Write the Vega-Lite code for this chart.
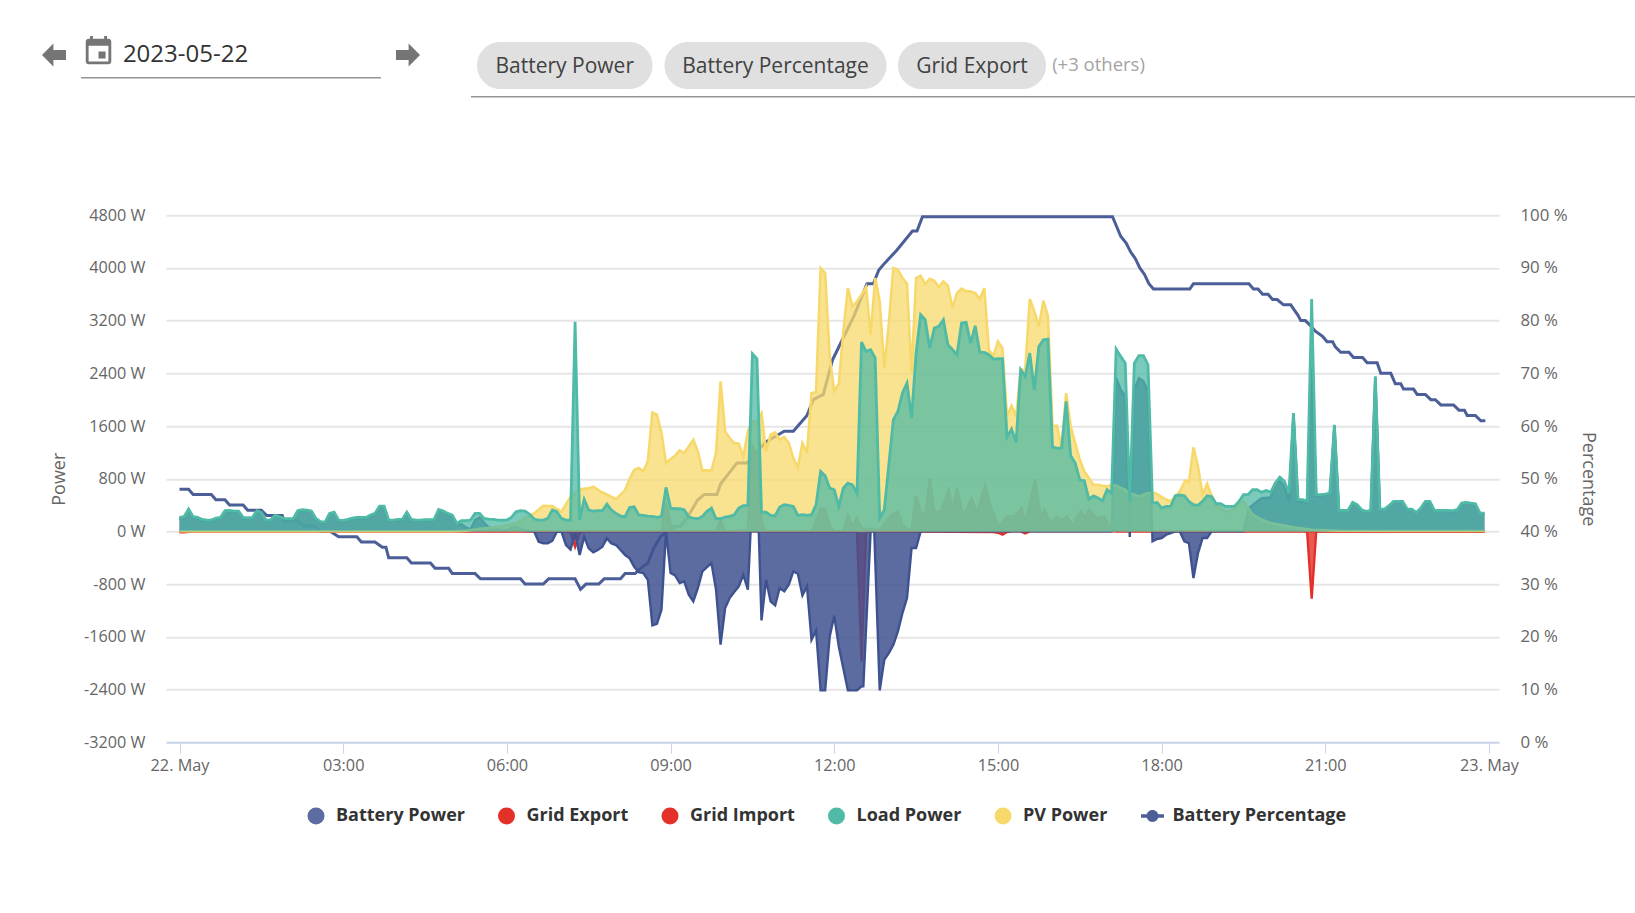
{
"$schema":"https://vega.github.io/schema/vega-lite/v6.json",
"padding":{"left":42,"top":35,"right":0,"bottom":40},
"config":{"view":{"stroke":null},"font":"Open Sans"},
"datasets":{
"percent":[{"minute":0,"pct":48},{"minute":10,"pct":48},{"minute":15,"pct":47},{"minute":35,"pct":47},{"minute":40,"pct":46},{"minute":50,"pct":46},{"minute":55,"pct":45},{"minute":70,"pct":45},{"minute":75,"pct":44},{"minute":90,"pct":44},{"minute":96,"pct":43},{"minute":113,"pct":43},{"minute":115,"pct":42},{"minute":130,"pct":42},{"minute":137,"pct":41},{"minute":148,"pct":41},{"minute":155,"pct":40},{"minute":166,"pct":40},{"minute":175,"pct":39},{"minute":195,"pct":39},{"minute":200,"pct":38},{"minute":215,"pct":38},{"minute":223,"pct":37},{"minute":227,"pct":37},{"minute":230,"pct":35},{"minute":250,"pct":35},{"minute":255,"pct":34},{"minute":276,"pct":34},{"minute":281,"pct":33},{"minute":296,"pct":33},{"minute":300,"pct":32},{"minute":325,"pct":32},{"minute":331,"pct":31},{"minute":375,"pct":31},{"minute":380,"pct":30},{"minute":400,"pct":30},{"minute":406,"pct":31},{"minute":435,"pct":31},{"minute":441,"pct":29},{"minute":447,"pct":30},{"minute":461,"pct":30},{"minute":467,"pct":31},{"minute":485,"pct":31},{"minute":490,"pct":32},{"minute":501,"pct":32},{"minute":507,"pct":33},{"minute":515,"pct":34},{"minute":522,"pct":37},{"minute":529,"pct":39},{"minute":536,"pct":40},{"minute":545,"pct":41},{"minute":551,"pct":41},{"minute":558,"pct":42.5},{"minute":570,"pct":46},{"minute":577,"pct":47},{"minute":591,"pct":47},{"minute":595,"pct":49},{"minute":613,"pct":53},{"minute":624,"pct":53},{"minute":645,"pct":57},{"minute":665,"pct":59},{"minute":675,"pct":59},{"minute":690,"pct":62},{"minute":697,"pct":65},{"minute":708,"pct":66},{"minute":718,"pct":72.5},{"minute":727,"pct":75.7},{"minute":742,"pct":81},{"minute":756,"pct":87},{"minute":763,"pct":87},{"minute":769,"pct":89.6},{"minute":776,"pct":91},{"minute":789,"pct":93.4},{"minute":806,"pct":97},{"minute":811,"pct":97},{"minute":817,"pct":99.7},{"minute":1026,"pct":99.7},{"minute":1035,"pct":96},{"minute":1041,"pct":94.7},{"minute":1046,"pct":93},{"minute":1051,"pct":91.8},{"minute":1056,"pct":90},{"minute":1061,"pct":88.8},{"minute":1066,"pct":87},{"minute":1071,"pct":86},{"minute":1111,"pct":86},{"minute":1115,"pct":87},{"minute":1176,"pct":87},{"minute":1181,"pct":86},{"minute":1186,"pct":86},{"minute":1191,"pct":85},{"minute":1197,"pct":85},{"minute":1202,"pct":84},{"minute":1207,"pct":84},{"minute":1214,"pct":83},{"minute":1222,"pct":83},{"minute":1226,"pct":82},{"minute":1230,"pct":81},{"minute":1233,"pct":80},{"minute":1238,"pct":80},{"minute":1244,"pct":79},{"minute":1249,"pct":78},{"minute":1257,"pct":77},{"minute":1262,"pct":76},{"minute":1268,"pct":76},{"minute":1271,"pct":75},{"minute":1277,"pct":74},{"minute":1286,"pct":74},{"minute":1291,"pct":73},{"minute":1301,"pct":73},{"minute":1306,"pct":72},{"minute":1317,"pct":72},{"minute":1321,"pct":70},{"minute":1332,"pct":70},{"minute":1337,"pct":68},{"minute":1343,"pct":68},{"minute":1346,"pct":67},{"minute":1357,"pct":67},{"minute":1361,"pct":66},{"minute":1370,"pct":66},{"minute":1376,"pct":65},{"minute":1381,"pct":65},{"minute":1387,"pct":64},{"minute":1401,"pct":64},{"minute":1407,"pct":63},{"minute":1413,"pct":63},{"minute":1416,"pct":62},{"minute":1425,"pct":62},{"minute":1431,"pct":61},{"minute":1436,"pct":61}],
"export":[{"minute":0,"watts":-12},{"minute":5,"watts":-15},{"minute":10,"watts":-5},{"minute":15,"watts":0},{"minute":425,"watts":0},{"minute":430,"watts":-20},{"minute":435,"watts":-233},{"minute":440,"watts":-20},{"minute":445,"watts":0},{"minute":745,"watts":0},{"minute":750,"watts":-1973},{"minute":755,"watts":0},{"minute":895,"watts":-10},{"minute":900,"watts":-20},{"minute":905,"watts":-50},{"minute":910,"watts":-10},{"minute":915,"watts":0},{"minute":925,"watts":0},{"minute":930,"watts":-30},{"minute":935,"watts":0},{"minute":1235,"watts":0},{"minute":1240,"watts":-5},{"minute":1245,"watts":-1022},{"minute":1250,"watts":-5},{"minute":1255,"watts":0},{"minute":1435,"watts":-5}],
"import":[{"minute":0,"watts":0},{"minute":530,"watts":0},{"minute":535,"watts":430},{"minute":540,"watts":100},{"minute":545,"watts":0},{"minute":590,"watts":0},{"minute":595,"watts":170},{"minute":600,"watts":0},{"minute":625,"watts":20},{"minute":630,"watts":1290},{"minute":635,"watts":1189},{"minute":640,"watts":160},{"minute":645,"watts":0},{"minute":695,"watts":0},{"minute":700,"watts":150},{"minute":705,"watts":345},{"minute":710,"watts":340},{"minute":715,"watts":80},{"minute":720,"watts":0},{"minute":730,"watts":0},{"minute":735,"watts":250},{"minute":740,"watts":80},{"minute":745,"watts":200},{"minute":750,"watts":50},{"minute":770,"watts":20},{"minute":775,"watts":100},{"minute":780,"watts":210},{"minute":785,"watts":270},{"minute":790,"watts":300},{"minute":795,"watts":100},{"minute":800,"watts":30},{"minute":805,"watts":20},{"minute":810,"watts":540},{"minute":815,"watts":300},{"minute":820,"watts":230},{"minute":825,"watts":810},{"minute":830,"watts":300},{"minute":837,"watts":304},{"minute":846,"watts":632},{"minute":850,"watts":300},{"minute":855,"watts":658},{"minute":862,"watts":228},{"minute":871,"watts":506},{"minute":877,"watts":270},{"minute":886,"watts":708},{"minute":892,"watts":380},{"minute":901,"watts":70},{"minute":910,"watts":228},{"minute":918,"watts":230},{"minute":926,"watts":354},{"minute":930,"watts":120},{"minute":941,"watts":794},{"minute":947,"watts":200},{"minute":951,"watts":329},{"minute":958,"watts":120},{"minute":965,"watts":228},{"minute":970,"watts":170},{"minute":976,"watts":228},{"minute":982,"watts":90},{"minute":991,"watts":304},{"minute":996,"watts":200},{"minute":1000,"watts":329},{"minute":1009,"watts":200},{"minute":1017,"watts":228},{"minute":1024,"watts":50},{"minute":1030,"watts":0},{"minute":1435,"watts":0}],
"battery":[{"minute":0,"watts":200},{"minute":5,"watts":210},{"minute":10,"watts":325},{"minute":15,"watts":210},{"minute":20,"watts":200},{"minute":25,"watts":170},{"minute":30,"watts":160},{"minute":35,"watts":160},{"minute":40,"watts":190},{"minute":45,"watts":200},{"minute":50,"watts":300},{"minute":55,"watts":305},{"minute":60,"watts":295},{"minute":65,"watts":295},{"minute":70,"watts":200},{"minute":75,"watts":195},{"minute":80,"watts":195},{"minute":85,"watts":300},{"minute":90,"watts":275},{"minute":95,"watts":160},{"minute":100,"watts":160},{"minute":105,"watts":235},{"minute":110,"watts":210},{"minute":115,"watts":185},{"minute":120,"watts":180},{"minute":125,"watts":180},{"minute":130,"watts":300},{"minute":135,"watts":320},{"minute":140,"watts":315},{"minute":145,"watts":300},{"minute":150,"watts":190},{"minute":155,"watts":135},{"minute":160,"watts":130},{"minute":165,"watts":260},{"minute":170,"watts":280},{"minute":175,"watts":160},{"minute":180,"watts":155},{"minute":185,"watts":170},{"minute":190,"watts":190},{"minute":195,"watts":200},{"minute":205,"watts":200},{"minute":210,"watts":235},{"minute":215,"watts":260},{"minute":220,"watts":370},{"minute":225,"watts":370},{"minute":230,"watts":160},{"minute":235,"watts":160},{"minute":240,"watts":170},{"minute":245,"watts":170},{"minute":250,"watts":280},{"minute":255,"watts":170},{"minute":260,"watts":160},{"minute":265,"watts":160},{"minute":270,"watts":165},{"minute":275,"watts":165},{"minute":280,"watts":170},{"minute":285,"watts":320},{"minute":290,"watts":295},{"minute":295,"watts":260},{"minute":300,"watts":235},{"minute":305,"watts":100},{"minute":310,"watts":110},{"minute":315,"watts":60},{"minute":320,"watts":30},{"minute":325,"watts":170},{"minute":330,"watts":210},{"minute":335,"watts":130},{"minute":340,"watts":60},{"minute":345,"watts":50},{"minute":350,"watts":30},{"minute":355,"watts":20},{"minute":360,"watts":20},{"minute":365,"watts":60},{"minute":370,"watts":70},{"minute":375,"watts":40},{"minute":380,"watts":10},{"minute":390,"watts":0},{"minute":395,"watts":-157},{"minute":400,"watts":-182},{"minute":405,"watts":-182},{"minute":410,"watts":-142},{"minute":415,"watts":-5},{"minute":420,"watts":-5},{"minute":425,"watts":-207},{"minute":430,"watts":-273},{"minute":435,"watts":-30},{"minute":440,"watts":-359},{"minute":445,"watts":-81},{"minute":450,"watts":-258},{"minute":455,"watts":-319},{"minute":460,"watts":-283},{"minute":465,"watts":-233},{"minute":470,"watts":-106},{"minute":475,"watts":-182},{"minute":480,"watts":-207},{"minute":485,"watts":-283},{"minute":490,"watts":-359},{"minute":495,"watts":-410},{"minute":500,"watts":-536},{"minute":505,"watts":-620},{"minute":510,"watts":-632},{"minute":515,"watts":-734},{"minute":520,"watts":-1427},{"minute":525,"watts":-1402},{"minute":530,"watts":-1189},{"minute":535,"watts":0},{"minute":540,"watts":-632},{"minute":545,"watts":-668},{"minute":550,"watts":-784},{"minute":555,"watts":-759},{"minute":560,"watts":-961},{"minute":565,"watts":-1063},{"minute":570,"watts":-860},{"minute":575,"watts":-607},{"minute":580,"watts":-541},{"minute":585,"watts":-481},{"minute":590,"watts":-885},{"minute":595,"watts":-1720},{"minute":600,"watts":-1164},{"minute":605,"watts":-1012},{"minute":610,"watts":-921},{"minute":615,"watts":-835},{"minute":620,"watts":-658},{"minute":625,"watts":-885},{"minute":628,"watts":0},{"minute":637,"watts":0},{"minute":640,"watts":-1351},{"minute":645,"watts":-734},{"minute":650,"watts":-1063},{"minute":655,"watts":-1123},{"minute":660,"watts":-860},{"minute":665,"watts":-911},{"minute":670,"watts":-810},{"minute":675,"watts":-607},{"minute":680,"watts":-643},{"minute":685,"watts":-971},{"minute":690,"watts":-835},{"minute":695,"watts":-1645},{"minute":700,"watts":-1503},{"minute":705,"watts":-2414},{"minute":710,"watts":-2414},{"minute":715,"watts":-1594},{"minute":720,"watts":-1280},{"minute":725,"watts":-1746},{"minute":735,"watts":-2414},{"minute":740,"watts":-2414},{"minute":745,"watts":-2414},{"minute":750,"watts":-2353},{"minute":752,"watts":-2353},{"minute":760,"watts":0},{"minute":764,"watts":0},{"minute":770,"watts":-2414},{"minute":775,"watts":-1948},{"minute":780,"watts":-1847},{"minute":785,"watts":-1720},{"minute":790,"watts":-1518},{"minute":795,"watts":-1240},{"minute":800,"watts":-1012},{"minute":805,"watts":-253},{"minute":810,"watts":-253},{"minute":815,"watts":0},{"minute":1025,"watts":0},{"minute":1030,"watts":2328},{"minute":1035,"watts":2150},{"minute":1040,"watts":2049},{"minute":1045,"watts":-86},{"minute":1050,"watts":2150},{"minute":1055,"watts":2328},{"minute":1060,"watts":2277},{"minute":1065,"watts":2125},{"minute":1070,"watts":-152},{"minute":1075,"watts":-116},{"minute":1080,"watts":-101},{"minute":1085,"watts":-50},{"minute":1090,"watts":-25},{"minute":1095,"watts":0},{"minute":1100,"watts":0},{"minute":1105,"watts":-152},{"minute":1110,"watts":-177},{"minute":1115,"watts":-708},{"minute":1120,"watts":-329},{"minute":1125,"watts":-101},{"minute":1130,"watts":-101},{"minute":1135,"watts":0},{"minute":1170,"watts":0},{"minute":1176,"watts":354},{"minute":1185,"watts":455},{"minute":1190,"watts":506},{"minute":1200,"watts":516},{"minute":1205,"watts":734},{"minute":1210,"watts":759},{"minute":1215,"watts":683},{"minute":1220,"watts":455},{"minute":1225,"watts":1771},{"minute":1230,"watts":455},{"minute":1235,"watts":455},{"minute":1240,"watts":430},{"minute":1245,"watts":2500},{"minute":1250,"watts":541},{"minute":1255,"watts":541},{"minute":1260,"watts":555},{"minute":1265,"watts":570},{"minute":1270,"watts":1594},{"minute":1275,"watts":310},{"minute":1280,"watts":310},{"minute":1285,"watts":310},{"minute":1290,"watts":430},{"minute":1295,"watts":395},{"minute":1300,"watts":320},{"minute":1305,"watts":295},{"minute":1310,"watts":310},{"minute":1315,"watts":2340},{"minute":1320,"watts":330},{"minute":1325,"watts":330},{"minute":1330,"watts":380},{"minute":1335,"watts":445},{"minute":1345,"watts":445},{"minute":1350,"watts":330},{"minute":1355,"watts":330},{"minute":1360,"watts":280},{"minute":1365,"watts":345},{"minute":1370,"watts":445},{"minute":1375,"watts":445},{"minute":1380,"watts":310},{"minute":1390,"watts":310},{"minute":1400,"watts":305},{"minute":1405,"watts":320},{"minute":1410,"watts":420},{"minute":1415,"watts":430},{"minute":1425,"watts":410},{"minute":1430,"watts":270},{"minute":1435,"watts":270}],
"pv":[{"minute":0,"watts":3},{"minute":300,"watts":3},{"minute":315,"watts":10},{"minute":330,"watts":40},{"minute":345,"watts":60},{"minute":355,"watts":80},{"minute":370,"watts":121},{"minute":380,"watts":200},{"minute":390,"watts":273},{"minute":400,"watts":390},{"minute":410,"watts":385},{"minute":420,"watts":298},{"minute":430,"watts":526},{"minute":440,"watts":638},{"minute":450,"watts":653},{"minute":455,"watts":678},{"minute":465,"watts":590},{"minute":470,"watts":562},{"minute":480,"watts":491},{"minute":490,"watts":627},{"minute":495,"watts":800},{"minute":500,"watts":931},{"minute":505,"watts":961},{"minute":510,"watts":911},{"minute":515,"watts":1063},{"minute":520,"watts":1806},{"minute":525,"watts":1771},{"minute":530,"watts":1493},{"minute":535,"watts":1037},{"minute":540,"watts":1098},{"minute":545,"watts":1149},{"minute":550,"watts":1230},{"minute":555,"watts":1189},{"minute":560,"watts":1290},{"minute":565,"watts":1392},{"minute":570,"watts":1214},{"minute":575,"watts":926},{"minute":585,"watts":926},{"minute":590,"watts":1189},{"minute":595,"watts":2277},{"minute":600,"watts":1518},{"minute":605,"watts":1417},{"minute":610,"watts":1341},{"minute":615,"watts":1331},{"minute":620,"watts":1139},{"minute":625,"watts":1518},{"minute":630,"watts":1670},{"minute":635,"watts":1670},{"minute":640,"watts":1796},{"minute":645,"watts":1214},{"minute":650,"watts":1467},{"minute":655,"watts":1503},{"minute":660,"watts":1392},{"minute":665,"watts":1432},{"minute":670,"watts":1341},{"minute":675,"watts":1113},{"minute":680,"watts":972},{"minute":685,"watts":1341},{"minute":690,"watts":1189},{"minute":695,"watts":2100},{"minute":700,"watts":2110},{"minute":705,"watts":3997},{"minute":710,"watts":3922},{"minute":715,"watts":2657},{"minute":720,"watts":2125},{"minute":725,"watts":2242},{"minute":730,"watts":3036},{"minute":735,"watts":3694},{"minute":740,"watts":3416},{"minute":745,"watts":3491},{"minute":750,"watts":3593},{"minute":755,"watts":3709},{"minute":760,"watts":2985},{"minute":765,"watts":3846},{"minute":770,"watts":3491},{"minute":775,"watts":2479},{"minute":780,"watts":3163},{"minute":785,"watts":3997},{"minute":790,"watts":3972},{"minute":795,"watts":3846},{"minute":800,"watts":3760},{"minute":805,"watts":2404},{"minute":810,"watts":3846},{"minute":815,"watts":3881},{"minute":820,"watts":3755},{"minute":825,"watts":3836},{"minute":830,"watts":3806},{"minute":835,"watts":3709},{"minute":840,"watts":3795},{"minute":845,"watts":3729},{"minute":850,"watts":3390},{"minute":855,"watts":3618},{"minute":860,"watts":3684},{"minute":865,"watts":3643},{"minute":870,"watts":3643},{"minute":875,"watts":3618},{"minute":880,"watts":3527},{"minute":885,"watts":3694},{"minute":890,"watts":2758},{"minute":895,"watts":2657},{"minute":900,"watts":2884},{"minute":905,"watts":2783},{"minute":910,"watts":1746},{"minute":915,"watts":1908},{"minute":920,"watts":1746},{"minute":925,"watts":2454},{"minute":930,"watts":2454},{"minute":935,"watts":3527},{"minute":940,"watts":3340},{"minute":945,"watts":3112},{"minute":950,"watts":3502},{"minute":955,"watts":3264},{"minute":960,"watts":1604},{"minute":965,"watts":1604},{"minute":970,"watts":1265},{"minute":975,"watts":2100},{"minute":980,"watts":1594},{"minute":985,"watts":1341},{"minute":990,"watts":1088},{"minute":995,"watts":911},{"minute":1000,"watts":810},{"minute":1005,"watts":708},{"minute":1010,"watts":708},{"minute":1015,"watts":693},{"minute":1020,"watts":683},{"minute":1025,"watts":708},{"minute":1030,"watts":693},{"minute":1035,"watts":658},{"minute":1040,"watts":632},{"minute":1045,"watts":582},{"minute":1050,"watts":557},{"minute":1055,"watts":531},{"minute":1060,"watts":557},{"minute":1065,"watts":582},{"minute":1073,"watts":582},{"minute":1082,"watts":506},{"minute":1090,"watts":455},{"minute":1100,"watts":607},{"minute":1106,"watts":774},{"minute":1110,"watts":744},{"minute":1115,"watts":1275},{"minute":1120,"watts":987},{"minute":1125,"watts":557},{"minute":1130,"watts":724},{"minute":1135,"watts":541},{"minute":1140,"watts":405},{"minute":1145,"watts":354},{"minute":1150,"watts":304},{"minute":1155,"watts":304},{"minute":1160,"watts":354},{"minute":1165,"watts":405},{"minute":1170,"watts":455},{"minute":1175,"watts":354},{"minute":1180,"watts":253},{"minute":1190,"watts":177},{"minute":1200,"watts":127},{"minute":1210,"watts":101},{"minute":1225,"watts":61},{"minute":1245,"watts":25},{"minute":1275,"watts":10},{"minute":1435,"watts":5}],
"load":[{"minute":0,"watts":212},{"minute":5,"watts":223},{"minute":10,"watts":339},{"minute":15,"watts":223},{"minute":20,"watts":212},{"minute":25,"watts":182},{"minute":30,"watts":172},{"minute":35,"watts":172},{"minute":40,"watts":202},{"minute":45,"watts":212},{"minute":50,"watts":314},{"minute":55,"watts":319},{"minute":60,"watts":309},{"minute":65,"watts":309},{"minute":70,"watts":212},{"minute":75,"watts":207},{"minute":80,"watts":207},{"minute":85,"watts":314},{"minute":90,"watts":288},{"minute":95,"watts":172},{"minute":100,"watts":172},{"minute":105,"watts":248},{"minute":110,"watts":223},{"minute":115,"watts":197},{"minute":120,"watts":192},{"minute":125,"watts":192},{"minute":130,"watts":314},{"minute":135,"watts":329},{"minute":140,"watts":324},{"minute":145,"watts":309},{"minute":150,"watts":197},{"minute":155,"watts":147},{"minute":160,"watts":142},{"minute":165,"watts":273},{"minute":170,"watts":293},{"minute":175,"watts":172},{"minute":180,"watts":167},{"minute":185,"watts":182},{"minute":190,"watts":202},{"minute":195,"watts":212},{"minute":205,"watts":212},{"minute":210,"watts":248},{"minute":215,"watts":273},{"minute":220,"watts":385},{"minute":225,"watts":385},{"minute":230,"watts":172},{"minute":235,"watts":172},{"minute":240,"watts":182},{"minute":245,"watts":182},{"minute":250,"watts":293},{"minute":255,"watts":182},{"minute":260,"watts":172},{"minute":265,"watts":172},{"minute":270,"watts":177},{"minute":275,"watts":177},{"minute":280,"watts":182},{"minute":285,"watts":334},{"minute":290,"watts":309},{"minute":295,"watts":273},{"minute":300,"watts":248},{"minute":305,"watts":121},{"minute":310,"watts":162},{"minute":315,"watts":162},{"minute":320,"watts":172},{"minute":325,"watts":273},{"minute":330,"watts":273},{"minute":335,"watts":197},{"minute":340,"watts":187},{"minute":345,"watts":182},{"minute":350,"watts":172},{"minute":360,"watts":172},{"minute":365,"watts":212},{"minute":370,"watts":298},{"minute":375,"watts":314},{"minute":380,"watts":309},{"minute":385,"watts":258},{"minute":390,"watts":187},{"minute":395,"watts":172},{"minute":400,"watts":172},{"minute":405,"watts":197},{"minute":410,"watts":324},{"minute":415,"watts":298},{"minute":420,"watts":197},{"minute":425,"watts":172},{"minute":430,"watts":172},{"minute":435,"watts":3183},{"minute":440,"watts":172},{"minute":445,"watts":486},{"minute":450,"watts":324},{"minute":455,"watts":309},{"minute":460,"watts":314},{"minute":465,"watts":314},{"minute":470,"watts":415},{"minute":475,"watts":324},{"minute":480,"watts":273},{"minute":485,"watts":233},{"minute":490,"watts":223},{"minute":495,"watts":364},{"minute":500,"watts":374},{"minute":505,"watts":250},{"minute":510,"watts":243},{"minute":515,"watts":233},{"minute":520,"watts":228},{"minute":525,"watts":213},{"minute":530,"watts":228},{"minute":535,"watts":668},{"minute":540,"watts":354},{"minute":545,"watts":344},{"minute":550,"watts":344},{"minute":555,"watts":329},{"minute":560,"watts":218},{"minute":565,"watts":202},{"minute":570,"watts":192},{"minute":575,"watts":228},{"minute":580,"watts":304},{"minute":585,"watts":354},{"minute":590,"watts":192},{"minute":595,"watts":192},{"minute":600,"watts":218},{"minute":605,"watts":228},{"minute":610,"watts":253},{"minute":615,"watts":354},{"minute":620,"watts":390},{"minute":625,"watts":395},{"minute":630,"watts":2697},{"minute":635,"watts":2621},{"minute":640,"watts":293},{"minute":645,"watts":293},{"minute":650,"watts":243},{"minute":655,"watts":238},{"minute":660,"watts":369},{"minute":665,"watts":405},{"minute":670,"watts":395},{"minute":675,"watts":380},{"minute":680,"watts":243},{"minute":685,"watts":253},{"minute":690,"watts":243},{"minute":695,"watts":253},{"minute":700,"watts":405},{"minute":705,"watts":911},{"minute":710,"watts":845},{"minute":715,"watts":658},{"minute":720,"watts":632},{"minute":725,"watts":380},{"minute":730,"watts":658},{"minute":735,"watts":734},{"minute":740,"watts":708},{"minute":745,"watts":582},{"minute":750,"watts":2874},{"minute":755,"watts":2732},{"minute":760,"watts":2758},{"minute":765,"watts":2631},{"minute":770,"watts":202},{"minute":775,"watts":329},{"minute":785,"watts":1695},{"minute":790,"watts":1822},{"minute":795,"watts":2100},{"minute":800,"watts":2252},{"minute":805,"watts":1720},{"minute":810,"watts":2707},{"minute":815,"watts":3289},{"minute":820,"watts":3213},{"minute":825,"watts":2783},{"minute":830,"watts":3087},{"minute":835,"watts":3112},{"minute":840,"watts":3213},{"minute":845,"watts":2834},{"minute":850,"watts":2758},{"minute":855,"watts":2682},{"minute":860,"watts":3163},{"minute":865,"watts":3173},{"minute":870,"watts":2859},{"minute":875,"watts":3122},{"minute":880,"watts":2722},{"minute":885,"watts":2717},{"minute":890,"watts":2682},{"minute":895,"watts":2616},{"minute":900,"watts":2621},{"minute":905,"watts":2621},{"minute":910,"watts":1432},{"minute":915,"watts":1553},{"minute":920,"watts":1351},{"minute":925,"watts":2454},{"minute":930,"watts":2353},{"minute":935,"watts":2707},{"minute":940,"watts":2150},{"minute":945,"watts":2808},{"minute":950,"watts":2910},{"minute":955,"watts":2920},{"minute":960,"watts":1280},{"minute":965,"watts":1265},{"minute":970,"watts":1265},{"minute":975,"watts":1973},{"minute":980,"watts":1149},{"minute":985,"watts":1037},{"minute":990,"watts":784},{"minute":995,"watts":769},{"minute":1000,"watts":491},{"minute":1005,"watts":541},{"minute":1010,"watts":506},{"minute":1015,"watts":466},{"minute":1020,"watts":632},{"minute":1025,"watts":582},{"minute":1030,"watts":2768},{"minute":1035,"watts":2657},{"minute":1040,"watts":2555},{"minute":1045,"watts":455},{"minute":1050,"watts":2555},{"minute":1055,"watts":2667},{"minute":1060,"watts":2667},{"minute":1065,"watts":2530},{"minute":1070,"watts":430},{"minute":1075,"watts":440},{"minute":1080,"watts":354},{"minute":1085,"watts":380},{"minute":1090,"watts":380},{"minute":1095,"watts":541},{"minute":1100,"watts":552},{"minute":1105,"watts":541},{"minute":1110,"watts":455},{"minute":1115,"watts":405},{"minute":1120,"watts":395},{"minute":1125,"watts":455},{"minute":1130,"watts":541},{"minute":1135,"watts":531},{"minute":1140,"watts":420},{"minute":1145,"watts":420},{"minute":1150,"watts":380},{"minute":1160,"watts":380},{"minute":1165,"watts":455},{"minute":1170,"watts":557},{"minute":1175,"watts":557},{"minute":1180,"watts":632},{"minute":1185,"watts":632},{"minute":1190,"watts":592},{"minute":1195,"watts":622},{"minute":1200,"watts":592},{"minute":1205,"watts":734},{"minute":1210,"watts":825},{"minute":1215,"watts":759},{"minute":1220,"watts":582},{"minute":1225,"watts":1796},{"minute":1230,"watts":481},{"minute":1235,"watts":481},{"minute":1240,"watts":455},{"minute":1245,"watts":3527},{"minute":1250,"watts":557},{"minute":1255,"watts":557},{"minute":1260,"watts":567},{"minute":1265,"watts":582},{"minute":1270,"watts":1619},{"minute":1275,"watts":319},{"minute":1285,"watts":319},{"minute":1290,"watts":440},{"minute":1295,"watts":405},{"minute":1300,"watts":329},{"minute":1305,"watts":304},{"minute":1310,"watts":319},{"minute":1315,"watts":2353},{"minute":1320,"watts":339},{"minute":1325,"watts":339},{"minute":1330,"watts":390},{"minute":1335,"watts":455},{"minute":1345,"watts":455},{"minute":1350,"watts":339},{"minute":1355,"watts":339},{"minute":1360,"watts":288},{"minute":1365,"watts":354},{"minute":1370,"watts":455},{"minute":1375,"watts":455},{"minute":1380,"watts":319},{"minute":1390,"watts":319},{"minute":1400,"watts":314},{"minute":1405,"watts":329},{"minute":1410,"watts":430},{"minute":1415,"watts":440},{"minute":1420,"watts":430},{"minute":1425,"watts":420},{"minute":1430,"watts":278},{"minute":1435,"watts":278}]
},
"spacing":109.2,
"vconcat":[
{"spacing":51,"hconcat":[
  {"spacing":15,"hconcat":[
    {"width":24,"height":40,"data":{"values":[{"control":"previous day"}]},"mark":{"type":"point","filled":true,"opacity":1,"color":"#757575","size":576,"shape":"M-1,0L-.05,-.95V-.42H1V.42H-.05V.95Z"},"encoding":{"x":{"field":"control","type":"nominal","axis":null}}},
    {"spacing":2,"vconcat":[
      {"spacing":0,"hconcat":[
        {"width":35,"height":33,"data":{"values":[{"control":"calendar"}]},"mark":{"type":"point","filled":true,"opacity":1,"color":"#757575","size":1156,"shape":"M.417,0h-.417v.417h.417v-.417zM.333,-.917v.167H-.333V-.917H-.5V-.75H-.583c-.092,0,-.166,.075,-.166,.167L-.75,.583c0,.092,.074,.167,.167,.167h1.167c.092,0,.167,-.075,.167,-.167V-.583c0,-.092,-.075,-.167,-.167,-.167h-.083V-.917h-.167zM.583,.583H-.583V-.333H.583V.583z"},"encoding":{"x":{"field":"control","type":"nominal","axis":null}}},
        {"width":139,"height":40,"data":{"values":[{"date":"2023-05-22"}]},"mark":{"type":"text","fontSize":24,"color":"#333333","baseline":"middle"},"encoding":{"text":{"field":"date"}}}
      ]},
      {"width":300,"height":1.5,"data":{"values":[{"control":"date underline"}]},"mark":{"type":"rect","color":"#949494"},"encoding":{"x":{"field":"control","type":"nominal","axis":null}}}
    ]},
    {"width":24,"height":40,"data":{"values":[{"control":"next day"}]},"mark":{"type":"point","filled":true,"opacity":1,"color":"#757575","size":576,"shape":"M1,0L.05,-.95V-.42H-1V.42H.05V.95Z"},"encoding":{"x":{"field":"control","type":"nominal","axis":null}}}
  ]},
  {"spacing":0,"vconcat":[
    {"width":1,"height":5.7,"data":{"values":[{"gap":""}]},"mark":{"type":"text","fontSize":1},"encoding":{"text":{"field":"gap"}}},
    {"spacing":0,"hconcat":[
      {"width":5.5,"height":1,"data":{"values":[{"gap":""}]},"mark":{"type":"text","fontSize":1},"encoding":{"text":{"field":"gap"}}},
      {"spacing":5.5,"hconcat":[
        {"spacing":11.5,"hconcat":[
          {"width":175.5,"height":47,"data":{"values":[{"chip":"Battery Power"}]},"encoding":{"x":{"field":"chip","type":"nominal","axis":null}},"layer":[{"mark":{"type":"rect","color":"#e0e0e0","cornerRadius":23.5}},{"mark":{"type":"text","fontSize":21,"color":"#424242","baseline":"middle","dy":1},"encoding":{"text":{"field":"chip"}}}]},
          {"width":222,"height":47,"data":{"values":[{"chip":"Battery Percentage"}]},"encoding":{"x":{"field":"chip","type":"nominal","axis":null}},"layer":[{"mark":{"type":"rect","color":"#e0e0e0","cornerRadius":23.5}},{"mark":{"type":"text","fontSize":21,"color":"#424242","baseline":"middle","dy":1},"encoding":{"text":{"field":"chip"}}}]},
          {"width":148,"height":47,"data":{"values":[{"chip":"Grid Export"}]},"encoding":{"x":{"field":"chip","type":"nominal","axis":null}},"layer":[{"mark":{"type":"rect","color":"#e0e0e0","cornerRadius":23.5}},{"mark":{"type":"text","fontSize":21,"color":"#424242","baseline":"middle","dy":1},"encoding":{"text":{"field":"chip"}}}]}
        ]},
        {"width":94,"height":47,"data":{"values":[{"note":"(+3 others)"}]},"mark":{"type":"text","fontSize":18.5,"color":"#a3a3a3","baseline":"middle","dy":-1},"encoding":{"text":{"field":"note"}}}
      ]}
    ]},
    {"width":1,"height":6.6,"data":{"values":[{"gap":""}]},"mark":{"type":"text","fontSize":1},"encoding":{"text":{"field":"gap"}}},
    {"width":1164,"height":1.5,"data":{"values":[{"control":"chip underline"}]},"mark":{"type":"rect","color":"#949494"},"encoding":{"x":{"field":"control","type":"nominal","axis":null}}}
  ]}
]},
{"spacing":0,"hconcat":[
  {"width":7.4,"height":1,"data":{"values":[{"gap":""}]},"mark":{"type":"text","fontSize":1},"encoding":{"text":{"field":"gap"}}},
  {"width":1333,"height":527,
   "encoding":{"x":{"field":"minute","type":"quantitative","scale":{"domain":[-14.85,1451],"nice":false,"zero":false},"axis":{"values":[0,180,360,540,720,900,1080,1260,1440],"labelExpr":"datum.value==0?'22. May':datum.value==1440?'23. May':format(floor(datum.value/60),'02')+':00'","title":null,"grid":false,"domainColor":"#ccd6eb","domainWidth":2,"tickColor":"#ccd6eb","tickSize":11,"tickWidth":1,"labelFontSize":16.3,"labelColor":"#666666","labelFont":"Open Sans","labelPadding":4}}},
   "layer":[
    {"data":{"name":"percent"},"mark":{"type":"line","strokeWidth":3,"interpolate":"linear"},
     "encoding":{"y":{"field":"pct","type":"quantitative","scale":{"domain":[0,100],"nice":false},"axis":{"orient":"right","values":[0,10,20,30,40,50,60,70,80,90,100],"labelExpr":"datum.value+' %'","grid":false,"domain":false,"ticks":false,"title":"Percentage","titleAngle":90,"titleFontSize":18,"titleFontWeight":"normal","titleColor":"#666666","titleFont":"Open Sans","titlePadding":11,"labelFontSize":16.8,"labelColor":"#666666","labelFont":"Open Sans","labelPadding":21}},
      "color":{"datum":"Battery Percentage","type":"nominal","scale":{"domain":["Battery Power","Grid Export","Grid Import","Load Power","PV Power","Battery Percentage"],"range":["#3f5290","#e3312a","#e3312a","#4fbaa5","#f7d96b","#4b5e97"]},
       "legend":{"orient":"none","legendX":265,"legendY":772,"direction":"horizontal","columns":6,"gridAlign":"none","title":null,"symbolType":"circle","symbolSize":289,"symbolStrokeWidth":0,"symbolOpacity":1,"labelFont":"Open Sans","labelFontSize":18,"labelFontWeight":"bold","labelColor":"#333333","labelOffset":11,"labelLimit":400,"columnPadding":32.5,
        "encode":{"symbols":{"update":{"shape":{"signal":"datum.value==='Battery Percentage'?'M-1.35,-.2H1.35V.2H-1.35ZM.7,0A.7,.7,0,1,1,-.7,0A.7,.7,0,1,1,.7,0Z':'circle'"},"opacity":{"signal":"datum.value==='Battery Power'?0.85:1"}}}}}}}},
    {"encoding":{"y":{"field":"watts","type":"quantitative","stack":null,"scale":{"domain":[-3200,4800],"nice":false},"axis":{"orient":"left","values":[-3200,-2400,-1600,-800,0,800,1600,2400,3200,4000,4800],"labelExpr":"datum.value+' W'","grid":true,"gridColor":"#e6e6e6","gridWidth":2,"domain":false,"ticks":false,"title":"Power","titleFontSize":18,"titleFontWeight":"normal","titleColor":"#666666","titleFont":"Open Sans","titlePadding":15,"labelFontSize":16.2,"labelColor":"#666666","labelFont":"Open Sans","labelPadding":21}}},
     "layer":[
      {"data":{"name":"export"},"mark":{"type":"area","fillOpacity":0.8,"line":{"strokeWidth":2.4}},"encoding":{"color":{"datum":"Grid Export","type":"nominal"}}},
      {"data":{"name":"import"},"mark":{"type":"area","fillOpacity":0.8,"line":{"strokeWidth":2.4}},"encoding":{"color":{"datum":"Grid Import","type":"nominal"}}},
      {"data":{"name":"battery"},"mark":{"type":"area","fillOpacity":0.85,"line":{"strokeWidth":2.4}},"encoding":{"color":{"datum":"Battery Power","type":"nominal"}}},
      {"data":{"name":"pv"},"mark":{"type":"area","fillOpacity":0.75,"line":{"strokeWidth":2.6}},"encoding":{"color":{"datum":"PV Power","type":"nominal"}}},
      {"data":{"name":"load"},"mark":{"type":"area","fillOpacity":0.75,"line":{"strokeWidth":2.8}},"encoding":{"color":{"datum":"Load Power","type":"nominal"}}}
     ]}
   ],
   "resolve":{"scale":{"y":"independent"}}
  }
]}
]
}
